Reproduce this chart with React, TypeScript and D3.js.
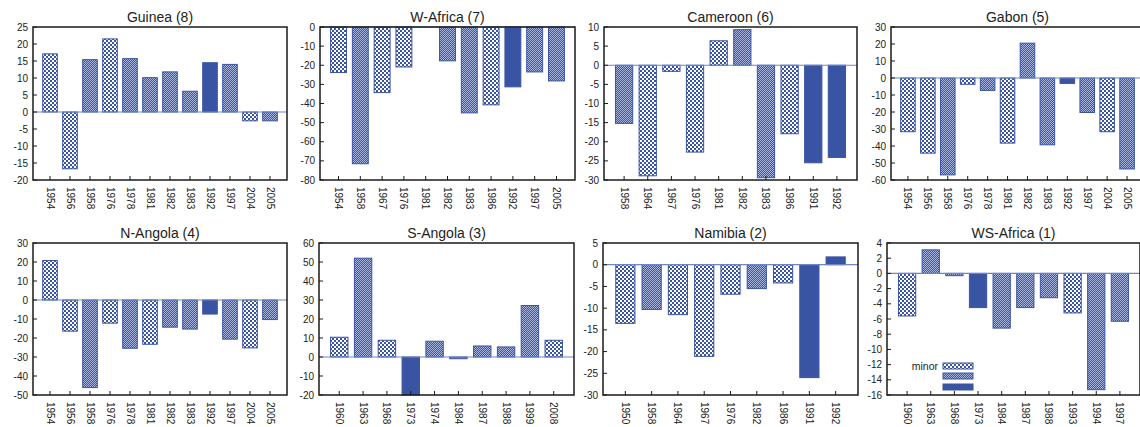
import React from "react";
import * as d3 from "d3";

// 0 = minor, 1 = moderate, 2 = severe
const guineaYears = ["1954","1956","1958","1976","1978","1981","1982","1983","1992","1997","2004","2005"];
const guineaValues = [17.1,-16.7,15.4,21.5,15.7,10.1,11.8,6.1,14.5,14.0,-2.6,-2.6];
const guineaTypes = [0,0,1,0,1,1,1,1,2,1,0,1];

const wAfricaYears = ["1954","1958","1967","1976","1981","1982","1983","1986","1992","1997","2005"];
const wAfricaValues = [-23.8,-71.5,-34.3,-20.9,null,-17.7,-44.9,-40.7,-31.3,-23.5,-28.2];
const wAfricaTypes = [0,1,0,0,1,1,1,0,2,1,1];

const cameroonYears = ["1958","1964","1967","1976","1981","1982","1983","1986","1991","1992"];
const cameroonValues = [-15.2,-28.9,-1.6,-22.7,6.4,9.3,-29.4,-17.9,-25.5,-24.1];
const cameroonTypes = [1,0,0,0,0,1,1,0,2,2];

const gabonYears = ["1954","1956","1958","1976","1978","1981","1982","1983","1992","1997","2004","2005"];
const gabonValues = [-31.6,-44.2,-57,-3.7,-7.3,-38.3,20.5,-39.3,-3.2,-20.3,-31.6,-53.5];
const gabonTypes = [0,0,1,0,1,0,1,1,2,1,0,1];

const nAngolaYears = ["1954","1956","1958","1976","1978","1981","1982","1983","1992","1997","2004","2005"];
const nAngolaValues = [20.8,-16.4,-46.1,-12.2,-25.4,-23.3,-14.3,-15.3,-7.4,-20.6,-25.2,-10.3];
const nAngolaTypes = [0,0,1,0,1,0,1,1,2,1,0,1];

const sAngolaYears = ["1960","1963","1968","1973","1974","1984","1987","1988","1999","2008"];
const sAngolaValues = [10.4,52,8.8,-20,8.3,-0.9,5.8,5.3,27.1,8.8];
const sAngolaTypes = [0,1,0,2,1,1,1,1,1,0];

const namibiaYears = ["1950","1958","1964","1967","1976","1982","1986","1991","1992"];
const namibiaValues = [-13.5,-10.3,-11.5,-21.1,-6.8,-5.5,-4.2,-26,1.8];
const namibiaTypes = [0,1,0,0,0,1,0,2,2];

const wsAfricaYears = ["1960","1963","1968","1973","1984","1987","1988","1993","1994","1997"];
const wsAfricaValues = [-5.6,3.1,-0.3,-4.5,-7.2,-4.5,-3.2,-5.2,-15.3,-6.3];
const wsAfricaTypes = [0,1,1,2,1,1,1,0,1,1];

const titles = ["Guinea (8)","W-Africa (7)","Cameroon (6)","Gabon (5)","N-Angola (4)","S-Angola (3)","Namibia (2)","WS-Africa (1)"];
const yDomains: [number, number, number][] = [
  [-20, 25, 5], [-80, 0, 10], [-30, 10, 5], [-60, 30, 10],
  [-50, 30, 10], [-20, 60, 10], [-30, 5, 5], [-16, 4, 2],
];
const legendLabels = ["minor", "", ""];

const BLUE = "#3a54a4";
const FONT = "'Liberation Sans', Arial, Helvetica, sans-serif";

const panelData = [
  { years: guineaYears, values: guineaValues, types: guineaTypes },
  { years: wAfricaYears, values: wAfricaValues, types: wAfricaTypes },
  { years: cameroonYears, values: cameroonValues, types: cameroonTypes },
  { years: gabonYears, values: gabonValues, types: gabonTypes },
  { years: nAngolaYears, values: nAngolaValues, types: nAngolaTypes },
  { years: sAngolaYears, values: sAngolaValues, types: sAngolaTypes },
  { years: namibiaYears, values: namibiaValues, types: namibiaTypes },
  { years: wsAfricaYears, values: wsAfricaValues, types: wsAfricaTypes },
];

const layout = [
  { l: 33, r: 287, t: 27, b: 180 },
  { l: 320, r: 575, t: 27, b: 180 },
  { l: 604, r: 857, t: 27, b: 180 },
  { l: 891, r: 1144, t: 27, b: 180 },
  { l: 33, r: 287, t: 243, b: 395 },
  { l: 319, r: 574, t: 243, b: 395 },
  { l: 603, r: 858, t: 243, b: 395 },
  { l: 887, r: 1140, t: 243, b: 395 },
];

const fills = ["url(#pMinor)", "url(#pMod)", BLUE];

function Panel({ idx }: { idx: number }) {
  const d = panelData[idx];
  const L = layout[idx];
  const [y0, y1, st] = yDomains[idx];
  const y = d3.scaleLinear().domain([y0, y1]).range([L.b, L.t]);
  const x = d3.scalePoint<string>().domain(d.years).range([L.l, L.r]).padding(0.85);
  const bw = x.step() * 0.73;
  const ticks = d3.range(y0, y1 + st / 2, st);
  const zeroY = y(0);
  return (
    <g>
      <text x={(L.l + L.r) / 2} y={L.t - 5.5} textAnchor="middle" fontSize={14} fill="#222" fontFamily={FONT}>
        {titles[idx]}
      </text>
      {d.years.map((yr, i) => {
        const v = d.values[i];
        if (v === null || v === undefined) return null;
        const top = Math.min(y(v), zeroY);
        const h = Math.abs(y(v) - zeroY);
        const bx = (x(yr) as number) - bw / 2;
        return (
          <rect key={yr} x={bx} y={top} width={bw} height={Math.max(h, 0.5)}
            fill={fills[d.types[i]]} stroke={BLUE} strokeWidth={1} />
        );
      })}
      <line x1={L.l} x2={L.r} y1={zeroY} y2={zeroY} stroke="#6f86c6" strokeWidth={1.2} />
      <rect x={L.l} y={L.t} width={L.r - L.l} height={L.b - L.t} fill="none" stroke="#1a1a1a" strokeWidth={1.5} />
      {ticks.map((t) => (
        <g key={t}>
          <line x1={L.l} x2={L.l + 4} y1={y(t)} y2={y(t)} stroke="#1a1a1a" strokeWidth={1} />
          <text x={L.l - 5} y={y(t)} dy="0.35em" textAnchor="end" fontSize={10} fill="#222" fontFamily={FONT}>
            {t}
          </text>
        </g>
      ))}
      {d.years.map((yr) => (
        <g key={"x" + yr}>
          <line x1={x(yr)} x2={x(yr)} y1={L.b} y2={L.b - 4} stroke="#1a1a1a" strokeWidth={1} />
          <text transform={`translate(${x(yr)},${L.b + 7}) rotate(90)`} dy="0.35em" textAnchor="start"
            fontSize={10} fill="#222" fontFamily={FONT}>
            {yr}
          </text>
        </g>
      ))}
    </g>
  );
}

export default function App() {
  const legendX = 943;
  const legendYs = [363, 373, 384];
  return (
    <svg width={1140} height={427} style={{ position: "absolute", left: 0, top: 0, background: "#fff" }}>
      <defs>
        <pattern id="pMinor" patternUnits="userSpaceOnUse" width={4} height={4}>
          <rect width={4} height={4} fill={BLUE} />
          <rect x={0} y={0} width={2} height={2} fill="#ffffff" />
          <rect x={2} y={2} width={2} height={2} fill="#ffffff" />
        </pattern>
        <pattern id="pMod" patternUnits="userSpaceOnUse" width={2} height={2}>
          <rect width={2} height={2} fill={BLUE} />
          <rect x={0} y={0} width={1} height={1} fill="#a9b6e0" />
          <rect x={1} y={1} width={1} height={1} fill="#a9b6e0" />
        </pattern>
      </defs>
      {panelData.map((_, i) => (
        <Panel key={i} idx={i} />
      ))}
      {legendYs.map((ly, i) => (
        <g key={"lg" + i}>
          <rect x={legendX} y={ly} width={30} height={6} fill={fills[i]} stroke={BLUE} strokeWidth={1} />
          {legendLabels[i] ? (
            <text x={legendX - 5} y={ly + 3} dy="0.35em" textAnchor="end" fontSize={10.5} fill="#222" fontFamily={FONT}>
              {legendLabels[i]}
            </text>
          ) : null}
        </g>
      ))}
    </svg>
  );
}
